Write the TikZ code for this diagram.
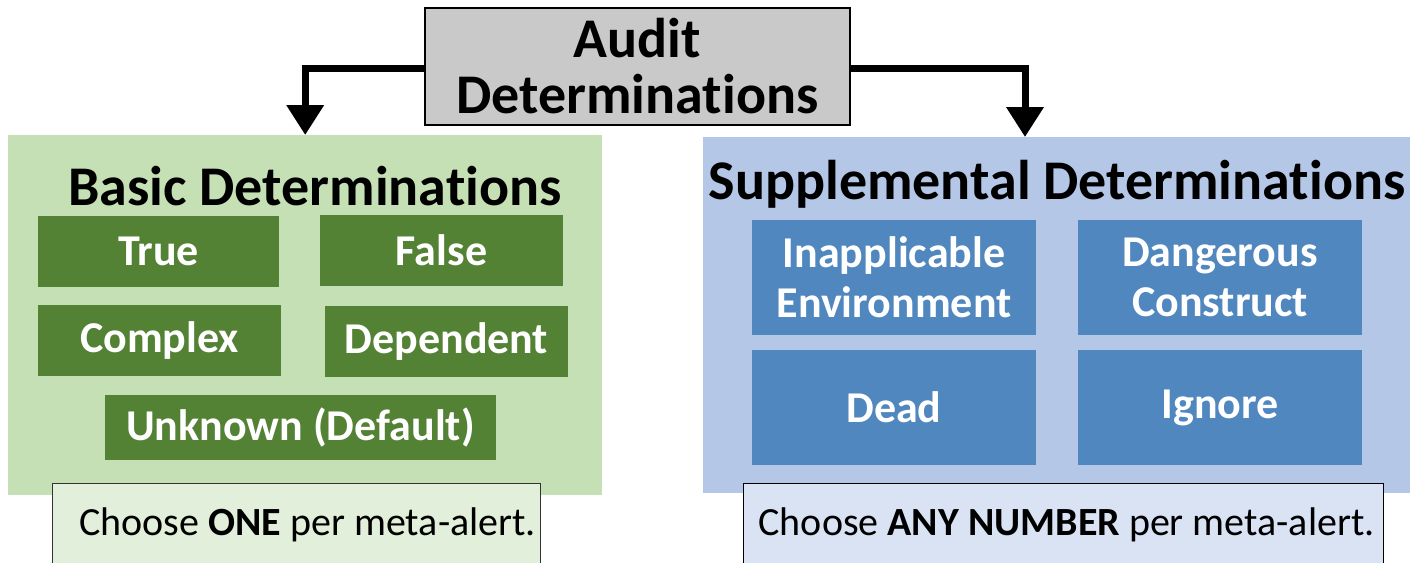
\documentclass[tikz,border=0pt]{standalone}
\usepackage{fontspec}
\setmainfont{Carlito}[Ligatures=NoCommon]
\usetikzlibrary{arrows.meta}
\definecolor{topgray}{HTML}{C9C9C9}
\definecolor{basicbg}{HTML}{C5E0B4}
\definecolor{basicbox}{HTML}{548235}
\definecolor{basicnote}{HTML}{E2EFDA}
\definecolor{suppbg}{HTML}{B4C7E7}
\definecolor{suppbox}{HTML}{4F87BE}
\definecolor{suppnote}{HTML}{DAE3F3}

\begin{document}
\begin{tikzpicture}[
    x=1pt, y=-1pt,
    panel/.style={
        inner sep=0pt,
        anchor=north west,
    },
    detbox/.style={
        text=white,
        font=\fontsize{44}{50}\selectfont\bfseries,
        align=center,
        inner sep=0pt,
    },
    notebox/.style={
        draw=black!80,
        line width=1.2pt,
        font=\fontsize{40}{46}\selectfont,
        inner sep=0pt,
        anchor=north west,
    },
    heading/.style={
        font=\fontsize{56}{62}\selectfont\bfseries,
        inner sep=0pt,
    },
    flow/.style={
        line width=7pt,
        -{Triangle[width=36pt,length=30pt]},
    },
]
\useasboundingbox (0,0) rectangle (1410,562);

% top box
\node[draw=black, line width=1.5pt, fill=topgray, minimum width=425pt, minimum height=117pt,
      align=center, font=\fontsize{56}{56}\selectfont\bfseries, inner sep=0pt] (audit) at (637.5,66.5)
      {Audit\\Determinations};

% panels
\node[panel, fill=basicbg, minimum width=594pt, minimum height=360pt] (basic) at (8,135) {};
\node[panel, fill=suppbg, minimum width=707pt, minimum height=356pt] (supp) at (703,137) {};
\coordinate (suppin) at (1025,137);

% panel headings
\node[heading] (basictitle) at (315,186) {Basic Determinations};
\node[heading] (supptitle) at (1057,184) {Supplemental Determinations};

% basic determinations
\node[detbox, fill=basicbox, minimum width=241pt, minimum height=71pt] (true) at (158.5,251.5) {True};
\node[detbox, fill=basicbox, minimum width=243pt, minimum height=71pt] (false) at (441.5,250.5) {False};
\node[detbox, fill=basicbox, minimum width=243pt, minimum height=71pt] (complex) at (159.5,340.5) {Complex};
\node[detbox, fill=basicbox, minimum width=243pt, minimum height=71pt] (dependent) at (446.5,341.5) {Dependent};
\node[detbox, fill=basicbox, minimum width=391pt, minimum height=65pt] (unknown) at (300.5,427.5) {Unknown (Default)};

% supplemental determinations
\node[detbox, fill=suppbox, minimum width=284pt, minimum height=115pt] (inapp) at (894,277) {Inapplicable\\Environment};
\node[detbox, fill=suppbox, minimum width=284pt, minimum height=115pt] (danger) at (1220,277) {Dangerous\\Construct};
\node[detbox, fill=suppbox, minimum width=284pt, minimum height=115pt] (dead) at (894,407.5) {Dead};
\node[detbox, fill=suppbox, minimum width=284pt, minimum height=115pt] (ignore) at (1220,407.5) {Ignore};

% notes
\node[notebox, fill=basicnote, minimum width=488pt, minimum height=82pt] (basicnote) at (52,483)
      {\hspace{22pt}Choose \textbf{ONE} per meta-alert.\hfill};
\node[notebox, draw=black, fill=suppnote, minimum width=640pt, minimum height=82pt] (suppnote) at (743,483)
      {\hspace{6pt}Choose \textbf{ANY NUMBER} per meta-alert.\hfill};

% connectors
\draw[flow] (audit.west |- 0,68) -| (basic.north);
\draw[flow] (audit.east |- 0,68) -| (suppin);

\end{tikzpicture}
\end{document}
